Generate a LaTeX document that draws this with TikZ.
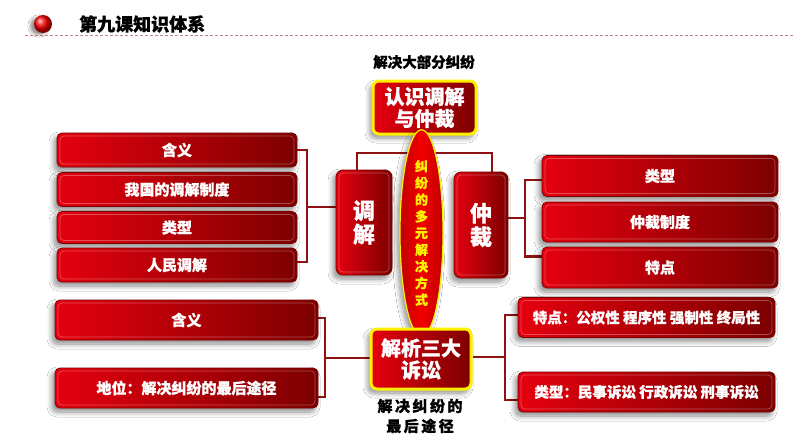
\documentclass[tikz,border=0pt]{standalone}
\usepackage{fontspec}
\setmainfont{Noto Sans CJK SC}[BoldFeatures={FakeBold=0.8}]
\usetikzlibrary{shapes.geometric,shadows.blur,backgrounds}
\definecolor{bred}{HTML}{E5000F}
\definecolor{bdark}{HTML}{7C0000}
\definecolor{connc}{HTML}{8E1212}
\definecolor{ylw}{HTML}{FFF000}
\definecolor{dashc}{HTML}{C88080}
\begin{document}
\begin{tikzpicture}[x=1pt,y=-1pt,
  shad/.style={blur shadow={shadow xshift=-3pt,shadow yshift=-4pt,shadow blur steps=8,shadow blur radius=5pt,shadow opacity=45}},
  inset/.style={path picture={\draw[white,opacity=0.3,line width=0.7pt,rounded corners=4pt]
      ([shift={(3pt,-3pt)}]path picture bounding box.north west) rectangle
      ([shift={(-3pt,3pt)}]path picture bounding box.south east);}},
  redbox/.style={shad,inset,rounded corners=5pt,left color=bred,right color=bdark,draw=bdark,line width=0.8pt,
    text=white,font=\bfseries\fontsize{15}{18}\selectfont,inner sep=0pt,align=center},
  keybox/.style={shad,rounded corners=6pt,left color=bred,right color=bdark,draw=ylw,line width=3pt,
    text=white,font=\bfseries\fontsize{20}{22}\selectfont,inner sep=0pt,align=center},
  tallbox/.style={redbox,rounded corners=7pt,font=\bfseries\fontsize{22}{23.5}\selectfont},
  conn/.style={draw=connc,line width=2.6pt},
  lbl/.style={font=\bfseries\fontsize{14.5}{19}\selectfont,text=black,align=center,inner sep=0pt}
  ]
\useasboundingbox (0,0) rectangle (794,447);
% header
\node[circle,minimum size=18pt,inner sep=0pt,ball color=red,
  blur shadow={shadow xshift=-4pt,shadow yshift=-2pt,shadow opacity=40}] (dot) at (43,24) {};
\node[anchor=west,font=\bfseries\fontsize{18}{20}\selectfont,inner sep=0pt] (title) at (79,24) {第九课知识体系};
\coordinate (hl) at (25,35);
\coordinate (hr) at (794,35);
\draw[dashc,line width=0.8pt,dash pattern=on 3pt off 2pt] (hl) -- (hr);

% top
\node[lbl] (toplbl) at (424,62) {解决大部分纠纷};
\node[keybox,minimum width=103pt,minimum height=53pt] (top) at (424.5,107.5) {认识调解\\与仲裁};

\node[tallbox,minimum width=56pt,minimum height=105pt] (tiao) at (364,222.5) {调\\解};
\node[tallbox,minimum width=54pt,minimum height=106pt] (zhong) at (481,225) {仲\\裁};

\node[ellipse,shad,left color=red!75!black,right color=red!75!black,middle color=red!95!black,draw=ylw,line width=1.2pt,
  minimum width=43pt,minimum height=173pt,inner sep=0pt,text=ylw,align=center,
  font=\bfseries\fontsize{13}{16.7}\selectfont] (ell) at (421.5,233) {纠\\纷\\的\\多\\元\\解\\决\\方\\式};

% left (tiao) boxes
\node[redbox,minimum width=240pt,minimum height=34pt] (m1) at (177,150) {含义};
\node[redbox,minimum width=240pt,minimum height=34pt] (m2) at (177,189.5) {我国的调解制度};
\node[redbox,minimum width=240pt,minimum height=32pt] (m3) at (177,227.5) {类型};
\node[redbox,minimum width=240pt,minimum height=34pt] (m4) at (177,265) {人民调解};

% right (zhong) boxes
\node[redbox,minimum width=236pt,minimum height=41pt] (r1) at (660,176) {类型};
\node[redbox,minimum width=236pt,minimum height=40pt] (r2) at (660,222) {仲裁制度};
\node[redbox,minimum width=236pt,minimum height=41pt] (r3) at (660,267.5) {特点};

% bottom center
\node[keybox,minimum width=100pt,minimum height=60pt] (su) at (421,359) {解析三大\\诉讼};
\node[lbl,font=\bfseries\fontsize{15}{20}\selectfont] (sulbl) at (420,416) {解\,决\,纠\,纷\,的\\最\,后\,途\,径};

% bottom left
\node[redbox,minimum width=263pt,minimum height=40pt] (b1) at (186.5,320) {含义};
\node[redbox,minimum width=263pt,minimum height=40pt] (b2) at (186.5,388) {地位：解决纠纷的最后途径};

% bottom right
\node[redbox,minimum width=257pt,minimum height=40pt,font=\bfseries\fontsize{14.5}{18}\selectfont] (c1) at (646.5,317.5) {特点：公权性 程序性 强制性 终局性};
\node[redbox,minimum width=257pt,minimum height=40pt,font=\bfseries\fontsize{14.5}{18}\selectfont] (c2) at (646.5,392) {类型：民事诉讼 行政诉讼 刑事诉讼};

% connectors
\coordinate (bar) at (424,153);
\coordinate (lb) at (307,207);
\coordinate (rb) at (525,218);
\coordinate (bl) at (325,358);
\coordinate (br) at (505,357);
\begin{pgfonlayer}{background}
\fill[white] (0,0) rectangle (794,447);
\draw[conn] (top.south) -- (bar);
\draw[conn] ([xshift=-7pt]tiao.north) |- (bar) -| ([xshift=11pt]zhong.north);
\draw[conn] (m1.east) -| (lb) |- ([yshift=3pt]m4.east);
\draw[conn] (lb) -- (lb -| tiao.west);
\draw[conn] ([yshift=-4pt]r1.west) -| (rb) |- ([yshift=11pt]r3.west);
\draw[conn] (rb) -- (rb -| zhong.east);
\draw[conn] (ell.south) -- (su.north);
\draw[conn] ([yshift=2pt]b1.east) -| (bl) |- ([yshift=-9pt]b2.east);
\draw[conn] (bl) -- (bl -| su.west);
\draw[conn] ([yshift=2.5pt]c1.west) -| (br) |- ([yshift=-8pt]c2.west);
\draw[conn] (br) -- (br -| su.east);
\end{pgfonlayer}
\end{tikzpicture}
\end{document}
